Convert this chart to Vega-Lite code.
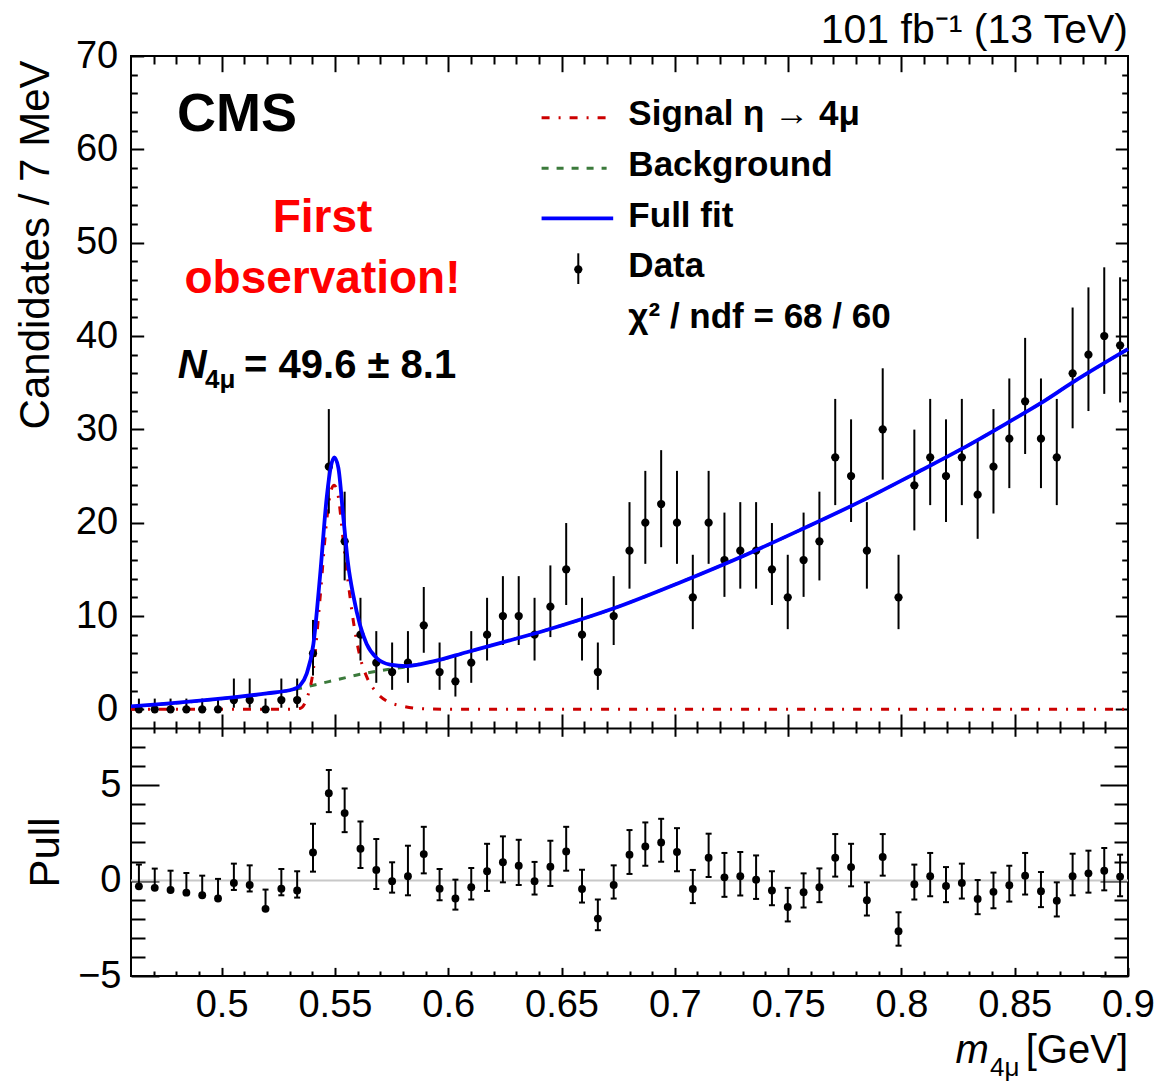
{
  "$schema": "https://vega.github.io/schema/vega-lite/v6.json",
  "width": 997,
  "height": 920,
  "autosize": {"type": "none"},
  "padding": {"left": 131, "top": 56, "right": 30, "bottom": 105},
  "background": "white",
  "config": {
    "view": {"stroke": "black", "strokeWidth": 2},
    "axis": {"domain": false, "grid": false, "tickColor": "black", "tickWidth": 2, "labels": false, "labelFont": "Liberation Sans, Arial, sans-serif", "labelFontSize": 38, "labelColor": "black", "labelFlush": false, "labelOverlap": false, "titleFont": "Liberation Sans, Arial, sans-serif", "titleFontWeight": "normal", "titleColor": "black", "titleFontSize": 42},
    "text": {"font": "Liberation Sans, Arial, sans-serif", "color": "black"}
  },
  "resolve": {"scale": {"y": "independent"}, "axis": {"x": "independent", "y": "independent"}},
  "datasets": {
    "bins": [
      {"m": 0.46349, "n": 0, "lo": 0, "hi": 1.15, "pull": -0.30, "pullLo": -0.30, "pullHi": 0.84},
      {"m": 0.47048, "n": 0, "lo": 0, "hi": 1.15, "pull": -0.38, "pullLo": -0.38, "pullHi": 0.63},
      {"m": 0.47746, "n": 0, "lo": 0, "hi": 1.15, "pull": -0.49, "pullLo": -0.49, "pullHi": 0.52},
      {"m": 0.48444, "n": 0, "lo": 0, "hi": 1.15, "pull": -0.63, "pullLo": -0.63, "pullHi": 0.40},
      {"m": 0.49143, "n": 0, "lo": 0, "hi": 1.15, "pull": -0.77, "pullLo": -0.77, "pullHi": 0.26},
      {"m": 0.49841, "n": 0, "lo": 0, "hi": 1.15, "pull": -0.94, "pullLo": -0.94, "pullHi": 0.09},
      {"m": 0.50540, "n": 1, "lo": 0.17, "hi": 3.30, "pull": -0.12, "pullLo": -0.49, "pullHi": 0.89},
      {"m": 0.51238, "n": 1, "lo": 0.17, "hi": 3.30, "pull": -0.23, "pullLo": -0.57, "pullHi": 0.80},
      {"m": 0.51937, "n": 0, "lo": 0, "hi": 1.15, "pull": -1.48, "pullLo": -1.48, "pullHi": -0.47},
      {"m": 0.52635, "n": 1, "lo": 0.17, "hi": 3.30, "pull": -0.42, "pullLo": -0.77, "pullHi": 0.61},
      {"m": 0.53333, "n": 1, "lo": 0.17, "hi": 3.30, "pull": -0.52, "pullLo": -0.89, "pullHi": 0.49},
      {"m": 0.54032, "n": 6, "lo": 3.62, "hi": 9.58, "pull": 1.48, "pullLo": 0.47, "pullHi": 2.98},
      {"m": 0.54730, "n": 26, "lo": 20.98, "hi": 32.17, "pull": 4.58, "pullLo": 3.59, "pullHi": 5.80},
      {"m": 0.55429, "n": 18, "lo": 13.81, "hi": 23.32, "pull": 3.54, "pullLo": 2.54, "pullHi": 4.83},
      {"m": 0.56127, "n": 8, "lo": 5.23, "hi": 11.95, "pull": 1.67, "pullLo": 0.66, "pullHi": 3.10},
      {"m": 0.56825, "n": 5, "lo": 2.84, "hi": 8.38, "pull": 0.56, "pullLo": -0.44, "pullHi": 2.18},
      {"m": 0.57524, "n": 4, "lo": 2.09, "hi": 7.16, "pull": -0.03, "pullLo": -0.63, "pullHi": 0.96},
      {"m": 0.58222, "n": 5, "lo": 2.84, "hi": 8.38, "pull": 0.23, "pullLo": -0.77, "pullHi": 1.83},
      {"m": 0.58921, "n": 9, "lo": 6.06, "hi": 13.11, "pull": 1.39, "pullLo": 0.38, "pullHi": 2.82},
      {"m": 0.59619, "n": 4, "lo": 2.09, "hi": 7.16, "pull": -0.42, "pullLo": -1.03, "pullHi": 0.61},
      {"m": 0.60317, "n": 3, "lo": 1.37, "hi": 5.92, "pull": -0.94, "pullLo": -1.52, "pullHi": 0.05},
      {"m": 0.61016, "n": 5, "lo": 2.84, "hi": 8.38, "pull": -0.35, "pullLo": -0.99, "pullHi": 0.66},
      {"m": 0.61714, "n": 8, "lo": 5.23, "hi": 11.95, "pull": 0.49, "pullLo": -0.54, "pullHi": 1.93},
      {"m": 0.62413, "n": 10, "lo": 6.89, "hi": 14.27, "pull": 0.96, "pullLo": -0.09, "pullHi": 2.32},
      {"m": 0.63111, "n": 10, "lo": 6.89, "hi": 14.27, "pull": 0.78, "pullLo": -0.23, "pullHi": 2.14},
      {"m": 0.63810, "n": 8, "lo": 5.23, "hi": 11.95, "pull": -0.03, "pullLo": -0.73, "pullHi": 0.98},
      {"m": 0.64508, "n": 11, "lo": 7.74, "hi": 15.42, "pull": 0.73, "pullLo": -0.28, "pullHi": 2.09},
      {"m": 0.65206, "n": 15, "lo": 11.18, "hi": 19.96, "pull": 1.53, "pullLo": 0.52, "pullHi": 2.82},
      {"m": 0.65905, "n": 8, "lo": 5.23, "hi": 11.95, "pull": -0.44, "pullLo": -1.15, "pullHi": 0.57},
      {"m": 0.66603, "n": 4, "lo": 2.09, "hi": 7.16, "pull": -1.99, "pullLo": -2.60, "pullHi": -0.99},
      {"m": 0.67302, "n": 10, "lo": 6.89, "hi": 14.27, "pull": -0.23, "pullLo": -0.94, "pullHi": 0.80},
      {"m": 0.68000, "n": 17, "lo": 12.93, "hi": 22.20, "pull": 1.36, "pullLo": 0.35, "pullHi": 2.65},
      {"m": 0.68698, "n": 20, "lo": 15.59, "hi": 25.55, "pull": 1.79, "pullLo": 0.78, "pullHi": 3.05},
      {"m": 0.69397, "n": 22, "lo": 17.37, "hi": 27.77, "pull": 2.00, "pullLo": 0.99, "pullHi": 3.24},
      {"m": 0.70095, "n": 20, "lo": 15.59, "hi": 25.55, "pull": 1.50, "pullLo": 0.49, "pullHi": 2.75},
      {"m": 0.70794, "n": 12, "lo": 8.59, "hi": 16.56, "pull": -0.44, "pullLo": -1.18, "pullHi": 0.56},
      {"m": 0.71492, "n": 20, "lo": 15.59, "hi": 25.55, "pull": 1.20, "pullLo": 0.19, "pullHi": 2.46},
      {"m": 0.72190, "n": 16, "lo": 12.05, "hi": 21.08, "pull": 0.17, "pullLo": -0.85, "pullHi": 1.45},
      {"m": 0.72889, "n": 17, "lo": 12.93, "hi": 22.20, "pull": 0.23, "pullLo": -0.78, "pullHi": 1.50},
      {"m": 0.73587, "n": 17, "lo": 12.93, "hi": 22.20, "pull": 0.05, "pullLo": -0.96, "pullHi": 1.32},
      {"m": 0.74286, "n": 15, "lo": 11.18, "hi": 19.96, "pull": -0.52, "pullLo": -1.29, "pullHi": 0.49},
      {"m": 0.74984, "n": 12, "lo": 8.59, "hi": 16.56, "pull": -1.38, "pullLo": -2.14, "pullHi": -0.38},
      {"m": 0.75683, "n": 16, "lo": 12.05, "hi": 21.08, "pull": -0.61, "pullLo": -1.41, "pullHi": 0.38},
      {"m": 0.76381, "n": 18, "lo": 13.81, "hi": 23.32, "pull": -0.35, "pullLo": -1.13, "pullHi": 0.64},
      {"m": 0.77079, "n": 27, "lo": 21.88, "hi": 33.26, "pull": 1.20, "pullLo": 0.21, "pullHi": 2.44},
      {"m": 0.77778, "n": 25, "lo": 20.07, "hi": 31.07, "pull": 0.71, "pullLo": -0.30, "pullHi": 1.93},
      {"m": 0.78476, "n": 17, "lo": 12.93, "hi": 22.20, "pull": -1.03, "pullLo": -1.83, "pullHi": -0.09},
      {"m": 0.79175, "n": 30, "lo": 24.61, "hi": 36.54, "pull": 1.24, "pullLo": 0.26, "pullHi": 2.44},
      {"m": 0.79873, "n": 12, "lo": 8.59, "hi": 16.56, "pull": -2.65, "pullLo": -3.41, "pullHi": -1.66},
      {"m": 0.80571, "n": 24, "lo": 19.17, "hi": 29.97, "pull": -0.19, "pullLo": -0.99, "pullHi": 0.84},
      {"m": 0.81270, "n": 27, "lo": 21.88, "hi": 33.26, "pull": 0.23, "pullLo": -0.82, "pullHi": 1.45},
      {"m": 0.81968, "n": 25, "lo": 20.07, "hi": 31.07, "pull": -0.28, "pullLo": -1.13, "pullHi": 0.71},
      {"m": 0.82667, "n": 27, "lo": 21.88, "hi": 33.26, "pull": -0.12, "pullLo": -0.94, "pullHi": 0.89},
      {"m": 0.83365, "n": 23, "lo": 18.27, "hi": 28.87, "pull": -0.96, "pullLo": -1.76, "pullHi": 0.03},
      {"m": 0.84063, "n": 26, "lo": 20.98, "hi": 32.17, "pull": -0.59, "pullLo": -1.45, "pullHi": 0.42},
      {"m": 0.84762, "n": 29, "lo": 23.70, "hi": 35.45, "pull": -0.24, "pullLo": -1.10, "pullHi": 0.78},
      {"m": 0.85460, "n": 33, "lo": 27.36, "hi": 39.80, "pull": 0.26, "pullLo": -0.73, "pullHi": 1.45},
      {"m": 0.86159, "n": 29, "lo": 23.70, "hi": 35.45, "pull": -0.56, "pullLo": -1.39, "pullHi": 0.45},
      {"m": 0.86857, "n": 27, "lo": 21.88, "hi": 33.26, "pull": -1.05, "pullLo": -1.88, "pullHi": -0.09},
      {"m": 0.87556, "n": 36, "lo": 30.11, "hi": 43.05, "pull": 0.23, "pullLo": -0.77, "pullHi": 1.41},
      {"m": 0.88254, "n": 38, "lo": 31.96, "hi": 45.21, "pull": 0.38, "pullLo": -0.63, "pullHi": 1.57},
      {"m": 0.88952, "n": 40, "lo": 33.80, "hi": 47.36, "pull": 0.52, "pullLo": -0.51, "pullHi": 1.71},
      {"m": 0.89651, "n": 39, "lo": 32.88, "hi": 46.29, "pull": 0.21, "pullLo": -0.82, "pullHi": 1.36}
    ],
    "signal": [
      {"m": 0.46, "y": 0}, {"m": 0.52, "y": 0}, {"m": 0.530, "y": 0.02}, {"m": 0.5346, "y": 0.1},
      {"m": 0.5375, "y": 1.1}, {"m": 0.5405, "y": 4.3}, {"m": 0.5434, "y": 11.8}, {"m": 0.5464, "y": 20.3},
      {"m": 0.5482, "y": 23.4}, {"m": 0.5497, "y": 24.0}, {"m": 0.5512, "y": 23.2}, {"m": 0.5537, "y": 18.0},
      {"m": 0.5559, "y": 13.5}, {"m": 0.5581, "y": 9.5}, {"m": 0.5611, "y": 5.6}, {"m": 0.5640, "y": 3.5},
      {"m": 0.5684, "y": 1.8}, {"m": 0.5728, "y": 0.9}, {"m": 0.5787, "y": 0.4}, {"m": 0.5875, "y": 0.08},
      {"m": 0.60, "y": 0.01}, {"m": 0.9, "y": 0}
    ],
    "background": [
      {"m": 0.46, "y": 0.30}, {"m": 0.4758, "y": 0.59}, {"m": 0.4904, "y": 0.91}, {"m": 0.5051, "y": 1.27},
      {"m": 0.5199, "y": 1.69}, {"m": 0.5316, "y": 2.1}, {"m": 0.5346, "y": 2.25}, {"m": 0.5434, "y": 2.75},
      {"m": 0.5522, "y": 3.25}, {"m": 0.5611, "y": 3.75}, {"m": 0.5699, "y": 4.15}, {"m": 0.5787, "y": 4.45},
      {"m": 0.5875, "y": 4.85}, {"m": 0.5934, "y": 5.12}, {"m": 0.6081, "y": 6.1}, {"m": 0.6228, "y": 7.1},
      {"m": 0.6434, "y": 8.5}, {"m": 0.6728, "y": 10.8}, {"m": 0.7023, "y": 13.6}, {"m": 0.7317, "y": 16.6},
      {"m": 0.7552, "y": 19.2}, {"m": 0.7847, "y": 22.6}, {"m": 0.8055, "y": 25.2}, {"m": 0.8266, "y": 27.9},
      {"m": 0.8475, "y": 30.8}, {"m": 0.8615, "y": 32.8}, {"m": 0.8754, "y": 35.0}, {"m": 0.8965, "y": 38.1},
      {"m": 0.9, "y": 38.6}
    ],
    "fullfit": [
      {"m": 0.46, "y": 0.32}, {"m": 0.4758, "y": 0.61}, {"m": 0.4904, "y": 0.93}, {"m": 0.5051, "y": 1.29},
      {"m": 0.5199, "y": 1.71}, {"m": 0.5316, "y": 2.15}, {"m": 0.5346, "y": 2.55}, {"m": 0.5375, "y": 3.8},
      {"m": 0.5405, "y": 7.0}, {"m": 0.5434, "y": 14.2}, {"m": 0.5464, "y": 22.75}, {"m": 0.5482, "y": 26.0},
      {"m": 0.5497, "y": 27.0}, {"m": 0.5515, "y": 25.9}, {"m": 0.5537, "y": 20.6}, {"m": 0.5559, "y": 15.4},
      {"m": 0.5581, "y": 12.2}, {"m": 0.5611, "y": 9.0}, {"m": 0.5640, "y": 7.0}, {"m": 0.5684, "y": 5.5},
      {"m": 0.5743, "y": 4.8}, {"m": 0.5816, "y": 4.64}, {"m": 0.5934, "y": 5.14}, {"m": 0.6081, "y": 6.12},
      {"m": 0.6228, "y": 7.1}, {"m": 0.6434, "y": 8.5}, {"m": 0.6728, "y": 10.8}, {"m": 0.7023, "y": 13.6},
      {"m": 0.7317, "y": 16.6}, {"m": 0.7552, "y": 19.2}, {"m": 0.7847, "y": 22.6}, {"m": 0.8055, "y": 25.2},
      {"m": 0.8266, "y": 27.9}, {"m": 0.8475, "y": 30.8}, {"m": 0.8615, "y": 32.8}, {"m": 0.8754, "y": 35.0},
      {"m": 0.8965, "y": 38.1}, {"m": 0.9, "y": 38.6}
    ]
  },
  "layer": [
    {
      "data": {"name": "background"},
      "mark": {"type": "line", "color": "#3b7a3b", "strokeWidth": 3, "strokeDash": [7, 8], "interpolate": "monotone"},
      "encoding": {
        "x": {"field": "m", "type": "quantitative", "scale": {"domain": [0.46, 0.9], "nice": false, "zero": false},
              "axis": {"orient": "top", "values": [0.47,0.48,0.49,0.51,0.52,0.53,0.54,0.56,0.57,0.58,0.59,0.61,0.62,0.63,0.64,0.66,0.67,0.68,0.69,0.71,0.72,0.73,0.74,0.76,0.77,0.78,0.79,0.81,0.82,0.83,0.84,0.86,0.87,0.88,0.89], "tickSize": -8, "labels": false, "title": null}},
        "y": {"field": "y", "type": "quantitative", "scale": {"domain": [-2, 70], "range": [672, 0], "nice": false, "zero": false},
              "axis": {"orient": "right", "values": [2,4,6,8,12,14,16,18,22,24,26,28,32,34,36,38,42,44,46,48,52,54,56,58,62,64,66,68], "tickSize": -6.3, "labels": false, "title": null}}
      }
    },
    {
      "data": {"name": "signal"},
      "mark": {"type": "line", "color": "#cc0000", "strokeWidth": 3, "strokeDash": [8, 9, 2, 9], "interpolate": "monotone"},
      "encoding": {
        "x": {"field": "m", "type": "quantitative", "scale": {"domain": [0.46, 0.9], "nice": false, "zero": false},
              "axis": {"orient": "top", "values": [0.5,0.55,0.6,0.65,0.7,0.75,0.8,0.85], "tickSize": -15.7, "labels": false, "title": null}},
        "y": {"field": "y", "type": "quantitative", "scale": {"domain": [-2, 70], "range": [672, 0], "nice": false, "zero": false},
              "axis": {"orient": "right", "values": [0,10,20,30,40,50,60], "tickSize": -12.7, "labels": false, "title": null}}
      }
    },
    {
      "data": {"name": "bins"},
      "mark": {"type": "rule", "color": "black", "strokeWidth": 2},
      "encoding": {
        "x": {"field": "m", "type": "quantitative", "scale": {"domain": [0.46, 0.9], "nice": false, "zero": false},
              "axis": {"orient": "bottom", "offset": -248, "values": [0.5,0.55,0.6,0.65,0.7,0.75,0.8,0.85], "tickSize": -14, "domain": true, "domainColor": "black", "domainWidth": 2, "labels": false, "title": null}},
        "y": {"field": "lo", "type": "quantitative", "scale": {"domain": [-2, 70], "range": [672, 0], "nice": false, "zero": false},
              "axis": {"orient": "left", "values": [0,10,20,30,40,50,60,70], "tickSize": -12.7, "labels": true, "labelPadding": 26, "format": "d",
                       "title": "Candidates / 7 MeV", "titleX": -83, "titleY": 4, "titleAngle": 270, "titleAlign": "right", "titleBaseline": "alphabetic"}},
        "y2": {"field": "hi"}
      }
    },
    {
      "data": {"name": "bins"},
      "mark": {"type": "point", "filled": true, "color": "black", "size": 68, "opacity": 1},
      "encoding": {
        "x": {"field": "m", "type": "quantitative", "scale": {"domain": [0.46, 0.9], "nice": false, "zero": false},
              "axis": {"orient": "bottom", "offset": -248, "values": [0.47,0.48,0.49,0.51,0.52,0.53,0.54,0.56,0.57,0.58,0.59,0.61,0.62,0.63,0.64,0.66,0.67,0.68,0.69,0.71,0.72,0.73,0.74,0.76,0.77,0.78,0.79,0.81,0.82,0.83,0.84,0.86,0.87,0.88,0.89], "tickSize": -7, "labels": false, "title": null}},
        "y": {"field": "n", "type": "quantitative", "scale": {"domain": [-2, 70], "range": [672, 0], "nice": false, "zero": false},
              "axis": {"orient": "left", "values": [2,4,6,8,12,14,16,18,22,24,26,28,32,34,36,38,42,44,46,48,52,54,56,58,62,64,66,68], "tickSize": -6.3, "labels": false, "title": null}}
      }
    },
    {
      "data": {"name": "fullfit"},
      "mark": {"type": "line", "color": "#0000ff", "strokeWidth": 3.8, "interpolate": "monotone"},
      "encoding": {
        "x": {"field": "m", "type": "quantitative", "scale": {"domain": [0.46, 0.9], "nice": false, "zero": false}, "axis": null},
        "y": {"field": "y", "type": "quantitative", "scale": {"domain": [-2, 70], "range": [672, 0], "nice": false, "zero": false}, "axis": null}
      }
    },
    {
      "data": {"values": [{}]},
      "mark": {"type": "rule", "color": "#c8c8c8", "strokeWidth": 2},
      "encoding": {
        "y": {"datum": 0, "type": "quantitative", "scale": {"domain": [-5, 8], "range": [920, 672], "nice": false, "zero": false},
              "axis": {"orient": "left", "values": [-5, 0, 5], "tickSize": -28, "labels": true, "labelPadding": 38, "format": "d",
                       "title": "Pull", "titleX": -73, "titleY": 796, "titleAngle": 270, "titleAlign": "center", "titleBaseline": "alphabetic"}}
      }
    },
    {
      "data": {"name": "bins"},
      "mark": {"type": "rule", "color": "black", "strokeWidth": 2},
      "encoding": {
        "x": {"field": "m", "type": "quantitative", "scale": {"domain": [0.46, 0.9], "nice": false, "zero": false},
              "axis": {"orient": "bottom", "values": [0.5,0.55,0.6,0.65,0.7,0.75,0.8,0.85,0.9], "tickSize": -8.6, "labels": true, "labelPadding": 19, "format": "~g", "title": null}},
        "y": {"field": "pullLo", "type": "quantitative", "scale": {"domain": [-5, 8], "range": [920, 672], "nice": false, "zero": false},
              "axis": {"orient": "left", "values": [-4,-3,-2,-1,1,2,3,4,6,7], "tickSize": -14, "labels": false, "title": null}},
        "y2": {"field": "pullHi"}
      }
    },
    {
      "data": {"name": "bins"},
      "mark": {"type": "point", "shape": "stroke", "filled": false, "color": "black", "strokeWidth": 2, "size": 36, "opacity": 1},
      "encoding": {
        "x": {"field": "m", "type": "quantitative", "scale": {"domain": [0.46, 0.9], "nice": false, "zero": false},
              "axis": {"orient": "bottom", "values": [0.47,0.48,0.49,0.51,0.52,0.53,0.54,0.56,0.57,0.58,0.59,0.61,0.62,0.63,0.64,0.66,0.67,0.68,0.69,0.71,0.72,0.73,0.74,0.76,0.77,0.78,0.79,0.81,0.82,0.83,0.84,0.86,0.87,0.88,0.89], "tickSize": -5, "labels": false, "title": null}},
        "y": {"field": "pullHi", "type": "quantitative", "scale": {"domain": [-5, 8], "range": [920, 672], "nice": false, "zero": false},
              "axis": {"orient": "right", "values": [-5, 0, 5], "tickSize": -28, "labels": false, "title": null}}
      }
    },
    {
      "data": {"name": "bins"},
      "mark": {"type": "point", "shape": "stroke", "filled": false, "color": "black", "strokeWidth": 2, "size": 36, "opacity": 1},
      "encoding": {
        "x": {"field": "m", "type": "quantitative", "scale": {"domain": [0.46, 0.9], "nice": false, "zero": false},
              "axis": {"orient": "bottom", "offset": -248, "values": [0.5,0.55,0.6,0.65,0.7,0.75,0.8,0.85], "tickSize": 8.3, "labels": false, "title": null}},
        "y": {"field": "pullLo", "type": "quantitative", "scale": {"domain": [-5, 8], "range": [920, 672], "nice": false, "zero": false},
              "axis": {"orient": "right", "values": [-4,-3,-2,-1,1,2,3,4,6,7], "tickSize": -14, "labels": false, "title": null}}
      }
    },
    {
      "data": {"name": "bins"},
      "mark": {"type": "point", "filled": true, "color": "black", "size": 62, "opacity": 1},
      "encoding": {
        "x": {"field": "m", "type": "quantitative", "scale": {"domain": [0.46, 0.9], "nice": false, "zero": false},
              "axis": {"orient": "bottom", "offset": -248, "values": [0.47,0.48,0.49,0.51,0.52,0.53,0.54,0.56,0.57,0.58,0.59,0.61,0.62,0.63,0.64,0.66,0.67,0.68,0.69,0.71,0.72,0.73,0.74,0.76,0.77,0.78,0.79,0.81,0.82,0.83,0.84,0.86,0.87,0.88,0.89], "tickSize": 5, "labels": false, "title": null}},
        "y": {"field": "pull", "type": "quantitative", "scale": {"domain": [-5, 8], "range": [920, 672], "nice": false, "zero": false}, "axis": null}
      }
    },
    {
      "data": {"values": [{}]},
      "mark": {"type": "text", "text": "101 fb⁻¹ (13 TeV)", "fontSize": 41, "align": "right", "baseline": "alphabetic"},
      "encoding": {
        "x": {"datum": 0.9, "type": "quantitative", "scale": {"domain": [0.46, 0.9], "nice": false, "zero": false}, "axis": null},
        "y": {"datum": 71.36, "type": "quantitative", "scale": {"domain": [-2, 70], "range": [672, 0], "nice": false, "zero": false}, "axis": null}
      }
    },
    {
      "data": {"values": [{}]},
      "mark": {"type": "text", "text": "CMS", "fontSize": 54, "fontWeight": "bold", "align": "left", "baseline": "alphabetic"},
      "encoding": {
        "x": {"datum": 0.4803, "type": "quantitative", "scale": {"domain": [0.46, 0.9], "nice": false, "zero": false}, "axis": null},
        "y": {"datum": 61.96, "type": "quantitative", "scale": {"domain": [-2, 70], "range": [672, 0], "nice": false, "zero": false}, "axis": null}
      }
    },
    {
      "data": {"values": [{}]},
      "mark": {"type": "text", "text": ["First", "observation!"], "lineHeight": 61.6, "fontSize": 46, "fontWeight": "bold", "color": "#ff0000", "align": "center", "baseline": "alphabetic"},
      "encoding": {
        "x": {"datum": 0.5445, "type": "quantitative", "scale": {"domain": [0.46, 0.9], "nice": false, "zero": false}, "axis": null},
        "y": {"datum": 51.17, "type": "quantitative", "scale": {"domain": [-2, 70], "range": [672, 0], "nice": false, "zero": false}, "axis": null}
      }
    },
    {
      "data": {"values": [{}]},
      "mark": {"type": "text", "text": "N", "fontSize": 40, "fontWeight": "bold", "fontStyle": "italic", "align": "left", "baseline": "alphabetic"},
      "encoding": {
        "x": {"datum": 0.4806, "type": "quantitative", "scale": {"domain": [0.46, 0.9], "nice": false, "zero": false}, "axis": null},
        "y": {"datum": 35.47, "type": "quantitative", "scale": {"domain": [-2, 70], "range": [672, 0], "nice": false, "zero": false}, "axis": null}
      }
    },
    {
      "data": {"values": [{}]},
      "mark": {"type": "text", "text": "4μ", "fontSize": 26, "fontWeight": "bold", "align": "left", "baseline": "alphabetic"},
      "encoding": {
        "x": {"datum": 0.4927, "type": "quantitative", "scale": {"domain": [0.46, 0.9], "nice": false, "zero": false}, "axis": null},
        "y": {"datum": 34.43, "type": "quantitative", "scale": {"domain": [-2, 70], "range": [672, 0], "nice": false, "zero": false}, "axis": null}
      }
    },
    {
      "data": {"values": [{}]},
      "mark": {"type": "text", "text": "= 49.6 ± 8.1", "fontSize": 40, "fontWeight": "bold", "align": "left", "baseline": "alphabetic"},
      "encoding": {
        "x": {"datum": 0.5099, "type": "quantitative", "scale": {"domain": [0.46, 0.9], "nice": false, "zero": false}, "axis": null},
        "y": {"datum": 35.47, "type": "quantitative", "scale": {"domain": [-2, 70], "range": [672, 0], "nice": false, "zero": false}, "axis": null}
      }
    },
    {
      "data": {"values": [{}]},
      "mark": {"type": "rule", "color": "#cc0000", "strokeWidth": 3, "strokeDash": [8, 9, 2, 9]},
      "encoding": {
        "x": {"datum": 0.6412, "type": "quantitative", "scale": {"domain": [0.46, 0.9], "nice": false, "zero": false}, "axis": null},
        "x2": {"datum": 0.6699},
        "y": {"datum": 63.39, "type": "quantitative", "scale": {"domain": [-2, 70], "range": [672, 0], "nice": false, "zero": false}, "axis": null}
      }
    },
    {
      "data": {"values": [{}]},
      "mark": {"type": "rule", "color": "#3b7a3b", "strokeWidth": 3, "strokeDash": [7, 8]},
      "encoding": {
        "x": {"datum": 0.6412, "type": "quantitative", "scale": {"domain": [0.46, 0.9], "nice": false, "zero": false}, "axis": null},
        "x2": {"datum": 0.6699},
        "y": {"datum": 57.97, "type": "quantitative", "scale": {"domain": [-2, 70], "range": [672, 0], "nice": false, "zero": false}, "axis": null}
      }
    },
    {
      "data": {"values": [{}]},
      "mark": {"type": "rule", "color": "#0000ff", "strokeWidth": 3.8},
      "encoding": {
        "x": {"datum": 0.6412, "type": "quantitative", "scale": {"domain": [0.46, 0.9], "nice": false, "zero": false}, "axis": null},
        "x2": {"datum": 0.6728},
        "y": {"datum": 52.61, "type": "quantitative", "scale": {"domain": [-2, 70], "range": [672, 0], "nice": false, "zero": false}, "axis": null}
      }
    },
    {
      "data": {"values": [{}]},
      "mark": {"type": "rule", "color": "black", "strokeWidth": 2},
      "encoding": {
        "x": {"datum": 0.6574, "type": "quantitative", "scale": {"domain": [0.46, 0.9], "nice": false, "zero": false}, "axis": null},
        "y": {"datum": 45.57, "type": "quantitative", "scale": {"domain": [-2, 70], "range": [672, 0], "nice": false, "zero": false}, "axis": null},
        "y2": {"datum": 48.86}
      }
    },
    {
      "data": {"values": [{}]},
      "mark": {"type": "point", "filled": true, "color": "black", "size": 68, "opacity": 1},
      "encoding": {
        "x": {"datum": 0.6574, "type": "quantitative", "scale": {"domain": [0.46, 0.9], "nice": false, "zero": false}, "axis": null},
        "y": {"datum": 47.14, "type": "quantitative", "scale": {"domain": [-2, 70], "range": [672, 0], "nice": false, "zero": false}, "axis": null}
      }
    },
    {
      "data": {"values": [{}]},
      "mark": {"type": "text", "text": ["Signal η → 4μ", "Background", "Full fit", "Data", "χ² / ndf = 68 / 60"], "lineHeight": 50.8, "fontSize": 35, "fontWeight": "bold", "align": "left", "baseline": "alphabetic"},
      "encoding": {
        "x": {"datum": 0.6795, "type": "quantitative", "scale": {"domain": [0.46, 0.9], "nice": false, "zero": false}, "axis": null},
        "y": {"datum": 62.61, "type": "quantitative", "scale": {"domain": [-2, 70], "range": [672, 0], "nice": false, "zero": false}, "axis": null}
      }
    },
    {
      "data": {"values": [{}]},
      "mark": {"type": "text", "text": "m", "fontSize": 40, "fontStyle": "italic", "align": "left", "baseline": "alphabetic"},
      "encoding": {
        "x": {"datum": 0.8239, "type": "quantitative", "scale": {"domain": [0.46, 0.9], "nice": false, "zero": false}, "axis": null},
        "y": {"datum": -9.58, "type": "quantitative", "scale": {"domain": [-5, 8], "range": [920, 672], "nice": false, "zero": false}, "axis": null}
      }
    },
    {
      "data": {"values": [{}]},
      "mark": {"type": "text", "text": "4μ", "fontSize": 26, "align": "left", "baseline": "alphabetic"},
      "encoding": {
        "x": {"datum": 0.8391, "type": "quantitative", "scale": {"domain": [0.46, 0.9], "nice": false, "zero": false}, "axis": null},
        "y": {"datum": -10.24, "type": "quantitative", "scale": {"domain": [-5, 8], "range": [920, 672], "nice": false, "zero": false}, "axis": null}
      }
    },
    {
      "data": {"values": [{}]},
      "mark": {"type": "text", "text": "[GeV]", "fontSize": 40, "align": "right", "baseline": "alphabetic"},
      "encoding": {
        "x": {"datum": 0.9, "type": "quantitative", "scale": {"domain": [0.46, 0.9], "nice": false, "zero": false}, "axis": null},
        "y": {"datum": -9.58, "type": "quantitative", "scale": {"domain": [-5, 8], "range": [920, 672], "nice": false, "zero": false}, "axis": null}
      }
    }
  ]
}
